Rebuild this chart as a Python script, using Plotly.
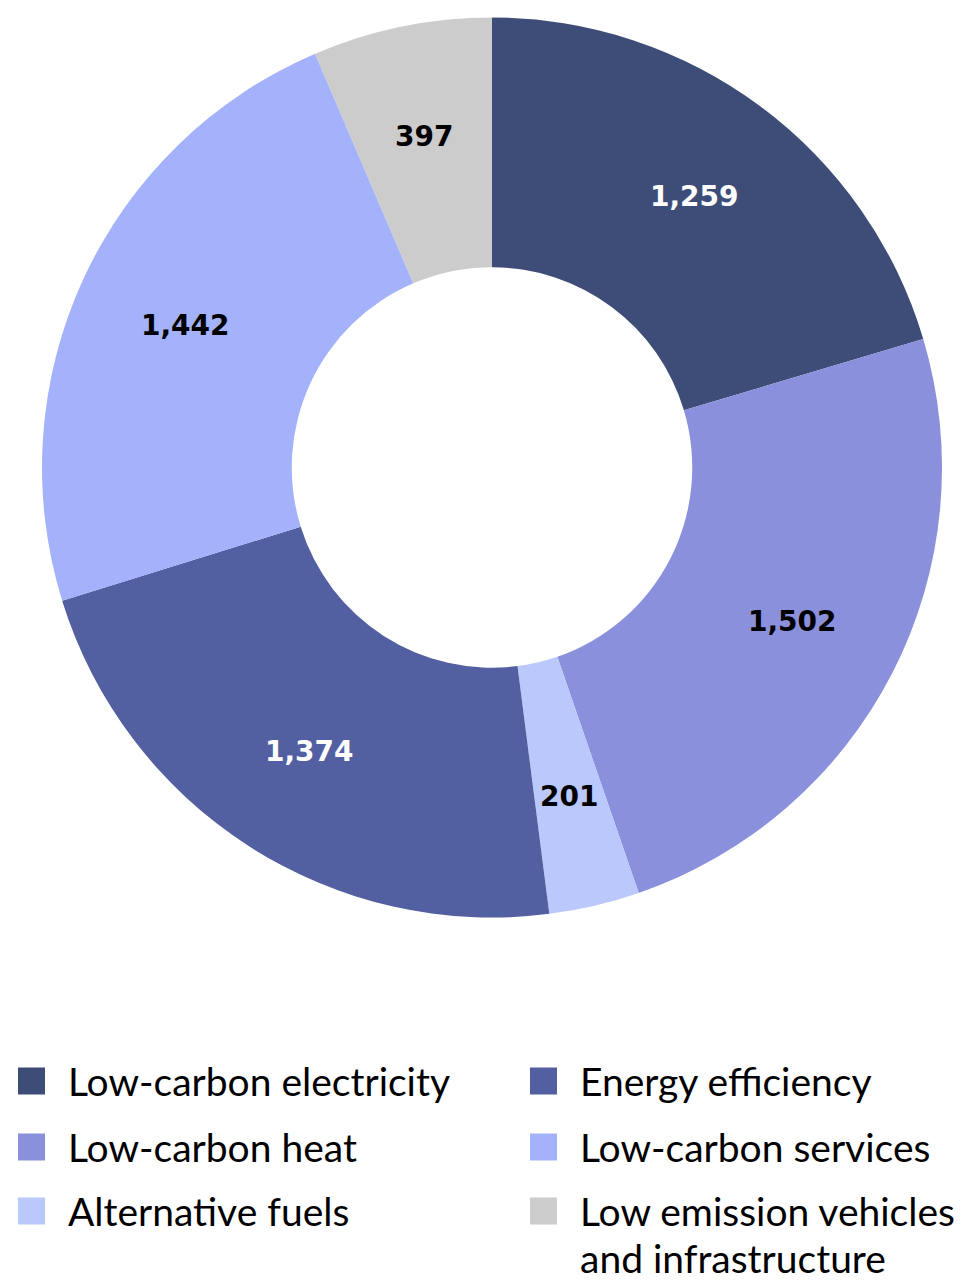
import numpy as np
import plotly.graph_objects as go

# Categories in clockwise order starting at 12 o'clock
categories = [
    "Low-carbon electricity",
    "Low-carbon heat",
    "Alternative fuels",
    "Energy efficiency",
    "Low-carbon services",
    "Low emission vehicles and infrastructure",
]
values = [1259, 1502, 201, 1374, 1442, 397]
colors = ["#3d4d78", "#8a90db", "#bac8fc", "#525fa0", "#a4b2fc", "#cccccc"]
label_colors = ["#ffffff", "#000000", "#000000", "#ffffff", "#000000", "#000000"]

# Legend text lines (two columns, column-major)
legend_lines = [
    ["Low-carbon electricity"],
    ["Low-carbon heat"],
    ["Alternative fuels"],
    ["Energy efficiency"],
    ["Low-carbon services"],
    ["Low emission vehicles", "and infrastructure"],
]

W, H = 970, 1281
cx, cy, R = 492, 467.5, 450
HOLE = 0.445

fig = go.Figure(
    go.Pie(
        labels=categories,
        values=values,
        sort=False,
        direction="clockwise",
        rotation=0,
        hole=HOLE,
        marker=dict(colors=colors, line=dict(width=0)),
        textinfo="none",
        hoverinfo="label+value",
        domain=dict(
            x=[(cx - R) / W, (cx + R) / W],
            y=[(H - cy - R) / H, (H - cy + R) / H],
        ),
        showlegend=False,
    )
)

# Value labels placed horizontally at the middle of the ring, at each slice's mid-angle
vals = np.array(values, dtype=float)
mid_frac = (np.cumsum(vals) - vals / 2) / vals.sum()
theta = 2 * np.pi * mid_frac
r_mid = R * (1 + HOLE) / 2 + 13
for v, th, tc in zip(values, theta, label_colors):
    px = cx + r_mid * np.sin(th)
    py = cy - r_mid * np.cos(th)
    fig.add_annotation(
        xref="paper", yref="paper",
        x=px / W, y=1 - py / H,
        xanchor="center", yanchor="middle",
        text=f"<b>{v:,}</b>", showarrow=False,
        font=dict(family="DejaVu Sans", size=28, color=tc),
    )

# Custom two-column legend
col_x = [18, 530]
row_y = [1081, 1147, 1211]
sq = 27
line_gap = 47
for i, (lines, col) in enumerate(zip(legend_lines, colors)):
    c, r = divmod(i, 3)
    x0 = col_x[c]
    y0 = row_y[r]
    fig.add_shape(
        type="rect", xref="paper", yref="paper",
        x0=x0 / W, x1=(x0 + sq) / W,
        y0=1 - (y0 + sq / 2) / H, y1=1 - (y0 - sq / 2) / H,
        fillcolor=col, line=dict(width=0),
    )
    for k, txt in enumerate(lines):
        fig.add_annotation(
            xref="paper", yref="paper",
            x=(x0 + sq + 21) / W, y=1 - (y0 + k * line_gap) / H,
            xanchor="left", yanchor="middle",
            text=txt, showarrow=False, align="left",
            font=dict(family="Lato", size=39, color="#000000"),
        )

fig.update_layout(
    width=W, height=H,
    margin=dict(l=0, r=0, t=0, b=0),
    paper_bgcolor="white",
    plot_bgcolor="white",
)

fig.write_html("out.html")
